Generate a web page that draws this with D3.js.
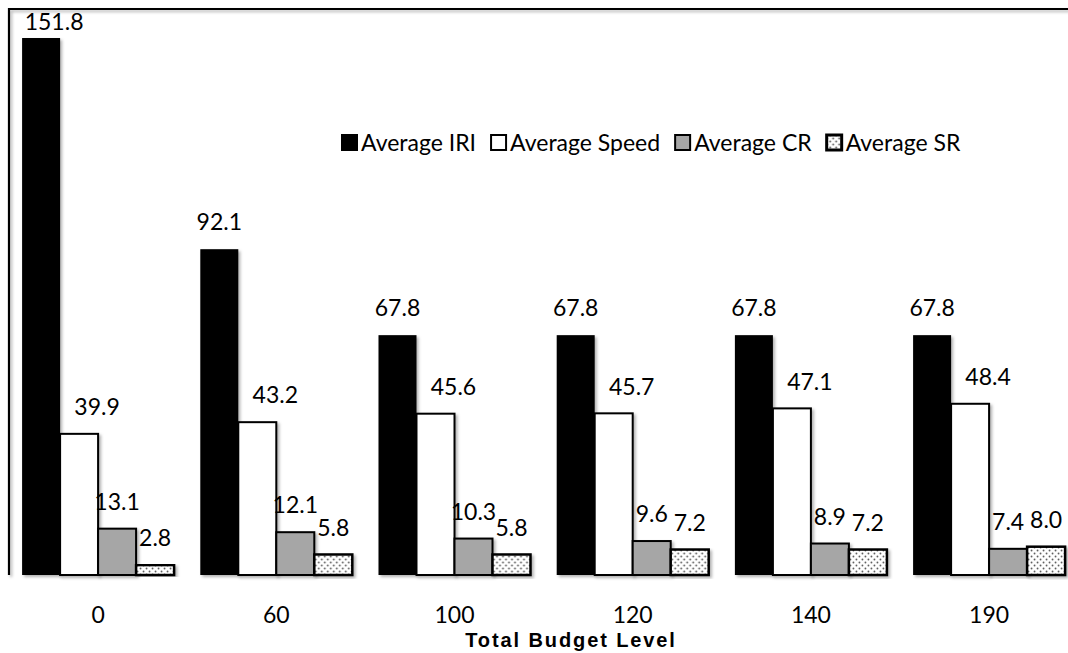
<!DOCTYPE html>
<html>
<head>
<meta charset="utf-8">
<script src="https://cdn.jsdelivr.net/npm/d3@7"></script>
<style>
  html, body { margin: 0; padding: 0; background: #fff; }
  svg { display: block; }
</style>
</head>
<body>
<svg id="chart" width="1068" height="653"></svg>
<script>
// Budget levels and the four averaged indicators
const budgetLevels = ["0", "60", "100", "120", "140", "190"];
const seriesNames = ["Average IRI", "Average Speed", "Average CR", "Average SR"];
const avgIRI   = [151.8, 92.1, 67.8, 67.8, 67.8, 67.8];
const avgSpeed = [39.9, 43.2, 45.6, 45.7, 47.1, 48.4];
const avgCR    = [13.1, 12.1, 10.3, 9.6, 8.9, 7.4];
const avgSR    = [2.8, 5.8, 5.8, 7.2, 7.2, 8.0];
const yMax = 160;

const seriesValues = [avgIRI, avgSpeed, avgCR, avgSR];
const svg = d3.select("#chart");
const W = 1068, H = 653;

const plot = { left: 9, top: 9, bottom: 575, step: 178.2 };
const plotRight = plot.left + plot.step * budgetLevels.length;

const fontLabel = "Lato, 'Open Sans', sans-serif";

// Definitions: drop shadow and the dotted fill
const defs = svg.append("defs");
const shadow = defs.append("filter").attr("id", "shadow")
  .attr("x", "-20%").attr("y", "-5%").attr("width", "150%").attr("height", "120%");
shadow.append("feDropShadow").attr("dx", 2).attr("dy", 2)
  .attr("stdDeviation", 1.6).attr("flood-color", "#000").attr("flood-opacity", 0.3);

const dots = defs.append("pattern").attr("id", "dots")
  .attr("patternUnits", "userSpaceOnUse").attr("width", 6).attr("height", 6);
dots.append("rect").attr("width", 6).attr("height", 6).attr("fill", "#fff");
dots.append("circle").attr("cx", 1.5).attr("cy", 1.5).attr("r", 0.9).attr("fill", "#555");
dots.append("circle").attr("cx", 4.5).attr("cy", 4.5).attr("r", 0.9).attr("fill", "#555");

const styles = [
  { fill: "#000", stroke: "#000", sw: 0 },
  { fill: "#fff", stroke: "#000", sw: 2 },
  { fill: "#a6a6a6", stroke: "#000", sw: 2 },
  { fill: "url(#dots)", stroke: "#000", sw: 2.5 }
];
// horizontal nudge of the value labels for each series
const labelDx = [0, 18, 0, 0];

svg.append("rect").attr("width", W).attr("height", H).attr("fill", "#fff");

// Scales
const x0 = d3.scaleBand().domain(budgetLevels)
  .range([plot.left, plotRight]).paddingInner(0.147).paddingOuter(0.0735);
const x1 = d3.scaleBand().domain(d3.range(seriesNames.length))
  .range([0, x0.bandwidth()]).padding(0);
const y = d3.scaleLinear().domain([0, yMax]).range([plot.bottom, plot.top]);

// Bars
const groups = svg.append("g").selectAll("g")
  .data(budgetLevels).join("g")
  .attr("transform", d => `translate(${x0(d)},0)`);

groups.selectAll("rect")
  .data((d, i) => seriesValues.map((vals, s) => ({ s, v: vals[i] })))
  .join("rect")
  .attr("x", d => x1(d.s))
  .attr("y", d => y(d.v))
  .attr("width", x1.bandwidth())
  .attr("height", d => plot.bottom - y(d.v))
  .attr("fill", d => styles[d.s].fill)
  .attr("stroke", d => styles[d.s].sw ? styles[d.s].stroke : "none")
  .attr("stroke-width", d => styles[d.s].sw)
  .attr("filter", "url(#shadow)");

// Value labels, kept inside the frame
const labelTopLimit = plot.top + 12.5;
groups.selectAll("text")
  .data((d, i) => seriesValues.map((vals, s) => ({ s, v: vals[i] })))
  .join("text")
  .each(function (d) {
    let cy = y(d.v) - 27;
    let dx = labelDx[d.s];
    if (cy < labelTopLimit) { cy = labelTopLimit; dx += 13; }
    d3.select(this)
      .attr("x", x1(d.s) + x1.bandwidth() / 2 + dx)
      .attr("y", cy);
  })
  .attr("dy", "0.36em")
  .attr("text-anchor", "middle")
  .attr("font-family", fontLabel)
  .attr("font-size", 23)
  .attr("fill", "#000")
  .text(d => d.v.toFixed(1));

// Baseline (category axis)
const xAxis = d3.axisBottom(x0).tickSize(0).tickPadding(32);
const axisG = svg.append("g").attr("transform", `translate(0,${plot.bottom})`).call(xAxis);
axisG.select(".domain").attr("stroke", "#7f7f7f").attr("stroke-width", 2.5)
  .attr("filter", "url(#shadow)");
axisG.selectAll(".tick text")
  .attr("font-family", fontLabel).attr("font-size", 23).attr("fill", "#000");

// Frame: left and top edges
svg.append("path")
  .attr("d", `M${plot.left},${plot.bottom}V${plot.top}H${W + 20}`)
  .attr("fill", "none").attr("stroke", "#000").attr("stroke-width", 2.2)
  .attr("filter", "url(#shadow)");

// Axis title
svg.append("text")
  .attr("x", 571).attr("y", 647)
  .attr("text-anchor", "middle")
  .attr("font-family", "'Liberation Sans', Arial, sans-serif")
  .attr("font-weight", "bold")
  .attr("font-size", 20)
  .attr("letter-spacing", 1.9)
  .text("Total Budget Level");

// Legend
const legend = svg.append("g").attr("transform", "translate(341,143)");
let lx = 0;
seriesNames.forEach((name, s) => {
  const item = legend.append("g").attr("transform", `translate(${lx},0)`);
  item.append("rect").attr("x", 1).attr("y", -8).attr("width", 15).attr("height", 15)
    .attr("fill", styles[s].fill).attr("stroke", "#000").attr("stroke-width", s === 3 ? 3 : 2);
  const t = item.append("text").attr("x", 20).attr("y", 0).attr("dy", "0.36em")
    .attr("font-family", fontLabel).attr("font-size", 23).text(name);
  lx += 20 + t.node().getComputedTextLength() + 14;
});
</script>
</body>
</html>
